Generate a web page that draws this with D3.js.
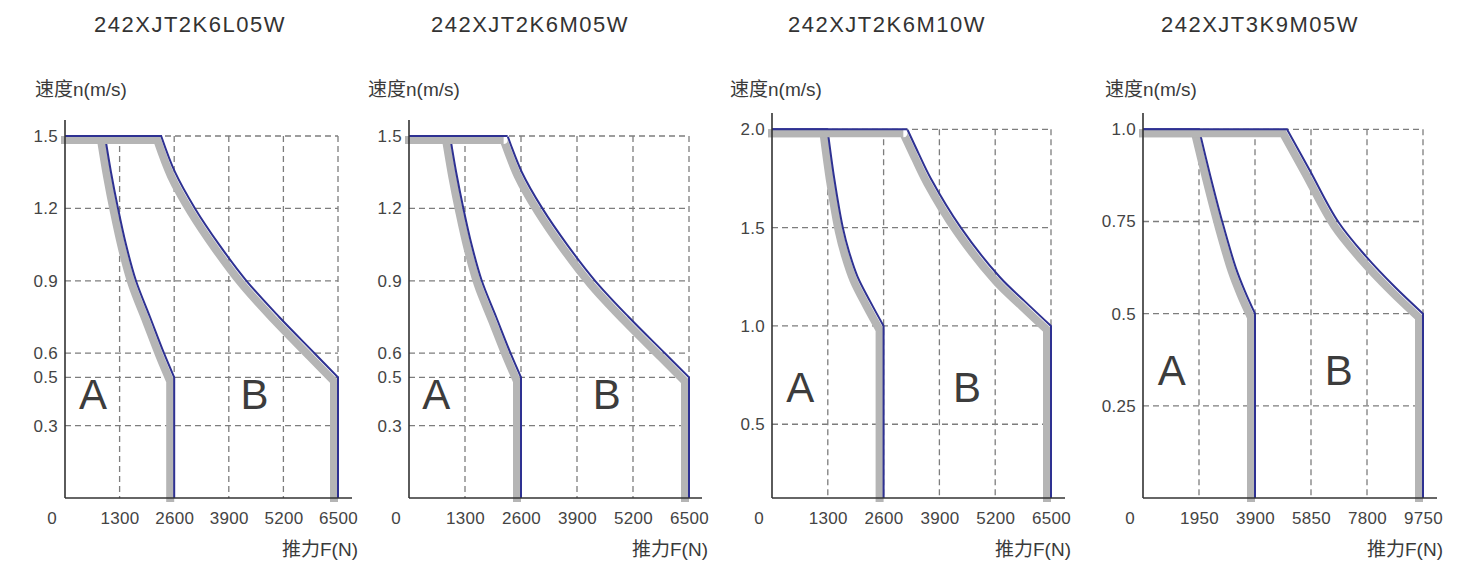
<!DOCTYPE html>
<meta charset="utf-8">
<title>speed-force curves</title>
<style>
    body { margin: 0; background: #fff; }
    text { font-family: "Liberation Sans", Arial, "Noto Sans CJK SC", sans-serif; fill: #3a3a3a; }
    .title { font-size: 22px; letter-spacing: 1.5px; text-anchor: middle; fill: #333; }
    .tick text { font-size: 17px; fill: #444; letter-spacing: 0.3px; }
    .unit { font-size: 19px; }
    .zone { font-size: 42px; text-anchor: middle; fill: #3c3c3c; }
    .grid { stroke: #7d7d7d; stroke-width: 1.3; stroke-dasharray: 6,4; fill: none; }
    .axis-line { stroke: #333; stroke-width: 1.6; }
</style>

<body>
    <script src="https://d3js.org/d3.v7.min.js" charset="utf-8"></script>
    <script>
        // ----------------------- data

        var titles = ["242XJT2K6L05W", "242XJT2K6M05W", "242XJT2K6M10W", "242XJT3K9M05W"];

        var forceTicks6500 = [0, 1300, 2600, 3900, 5200, 6500];
        var forceTicks9750 = [0, 1950, 3900, 5850, 7800, 9750];

        var speedTicks15 = [0.3, 0.5, 0.6, 0.9, 1.2, 1.5];
        var speedLabels15 = ["0.3", "0.5", "0.6", "0.9", "1.2", "1.5"];
        var speedTicks20 = [0.5, 1.0, 1.5, 2.0];
        var speedLabels20 = ["0.5", "1.0", "1.5", "2.0"];
        var speedTicks10 = [0.25, 0.5, 0.75, 1.0];
        var speedLabels10 = ["0.25", "0.5", "0.75", "1.0"];

        // 2K6 L05 / M05 (same curves)
        var forceA_05 = [952, 1095, 1262, 1452, 1690, 2024, 2357, 2600];
        var speedA_05 = [1.5, 1.35, 1.2, 1.05, 0.9, 0.75, 0.6, 0.5];
        var forceB_05 = [2290, 2620, 3095, 3670, 4320, 5100, 5940, 6500];
        var speedB_05 = [1.5, 1.35, 1.2, 1.05, 0.9, 0.75, 0.6, 0.5];

        // 2K6 M10
        var forceA_10 = [1293, 1450, 1650, 1798, 1995, 2286, 2600];
        var speedA_10 = [2.0, 1.75, 1.5, 1.375, 1.25, 1.125, 1.0];
        var forceB_10 = [3153, 3420, 3700, 4400, 5300, 5890, 6500];
        var speedB_10 = [2.0, 1.875, 1.75, 1.5, 1.25, 1.125, 1.0];

        // 3K9 M05
        var forceA_3K9 = [1950, 2340, 2758, 3230, 3540, 3900];
        var speedA_3K9 = [1.0, 0.875, 0.75, 0.625, 0.5625, 0.5];
        var forceB_3K9 = [5014, 5805, 6790, 7779, 8764, 9750];
        var speedB_3K9 = [1.0, 0.889, 0.75, 0.654, 0.573, 0.5];

        var zoneNames = ["A", "B"];

        // ----------------------- layout

        var width = 1473,
            height = 562,
            baseY = 498;

        var panels = [
            { title: titles[0], cx: 190, x0: 65, xR: 338, xEnd: 352, yTopPx: 136, axisTop: 120, unitX: 35,
              fTicks: forceTicks6500, vTicks: speedTicks15, vLabels: speedLabels15, vDomain: [0, 1.5],
              curves: [[forceA_05, speedA_05], [forceB_05, speedB_05]], zones: [[666, 0.369], [4510, 0.369]] },
            { title: titles[1], cx: 530, x0: 409, xR: 689, xEnd: 702, yTopPx: 136, axisTop: 120, unitX: 368,
              fTicks: forceTicks6500, vTicks: speedTicks15, vLabels: speedLabels15, vDomain: [0, 1.5],
              curves: [[forceA_05, speedA_05], [forceB_05, speedB_05]], zones: [[632, 0.369], [4588, 0.369]] },
            { title: titles[2], cx: 887, x0: 772, xR: 1051, xEnd: 1065, yTopPx: 129.3, axisTop: 113, unitX: 730,
              fTicks: forceTicks6500, vTicks: speedTicks20, vLabels: speedLabels20, vDomain: [0.125, 2.0],
              curves: [[forceA_10, speedA_10], [forceB_10, speedB_10]], zones: [[658, 0.613], [4543, 0.613]] },
            { title: titles[3], cx: 1260, x0: 1143, xR: 1423, xEnd: 1437, yTopPx: 129.3, axisTop: 113, unitX: 1105,
              fTicks: forceTicks9750, vTicks: speedTicks10, vLabels: speedLabels10, vDomain: [0, 1.0],
              curves: [[forceA_3K9, speedA_3K9], [forceB_3K9, speedB_3K9]], zones: [[1000, 0.306], [6813, 0.306]] }
        ];

        var svg = d3.select("body").append("svg")
            .attr("width", width)
            .attr("height", height);

        panels.forEach(function (p, k) {
            var fMax = p.fTicks[p.fTicks.length - 1];
            var vTop = p.vDomain[1], vBottom = p.vDomain[0];

            var x = d3.scaleLinear().domain([0, fMax]).range([p.x0, p.xR]);
            var y = d3.scaleLinear().domain(p.vDomain).range([baseY, p.yTopPx]);

            var g = svg.append("g");

            // title
            g.append("text").attr("class", "title")
                .attr("x", p.cx).attr("y", 32).text(p.title);

            // unit labels
            g.append("text").attr("class", "unit")
                .attr("x", p.unitX).attr("y", 96).text("速度n(m/s)");
            g.append("text").attr("class", "unit")
                .attr("x", p.xEnd + 6).attr("y", 556)
                .attr("text-anchor", "end").text("推力F(N)");

            // grid
            g.selectAll(".hgrid").data(p.vTicks).enter().append("line")
                .attr("class", "grid")
                .attr("x1", p.x0).attr("x2", x(fMax))
                .attr("y1", function (d) { return y(d); })
                .attr("y2", function (d) { return y(d); });
            g.selectAll(".vgrid").data(p.fTicks.slice(1)).enter().append("line")
                .attr("class", "grid")
                .attr("x1", function (d) { return x(d); })
                .attr("x2", function (d) { return x(d); })
                .attr("y1", y(vTop)).attr("y2", baseY);

            // curves
            var clipId = "clip" + k;
            svg.append("clipPath").attr("id", clipId)
                .append("rect")
                .attr("x", p.x0).attr("y", p.axisTop)
                .attr("width", p.xEnd - p.x0).attr("height", baseY - p.axisTop);

            var curveLine = d3.line()
                .x(function (d) { return x(d[0]); })
                .y(function (d) { return y(d[1]); })
                .curve(d3.curveCatmullRom.alpha(0.5));

            p.curves.forEach(function (c) {
                var F = c[0], V = c[1];
                var pts = F.map(function (f, i) { return [f, V[i]]; });
                var d = "M" + x(0) + "," + y(vTop) + "L" + x(F[0]) + "," + y(V[0]) +
                    curveLine(pts).replace(/^M[^A-Z]*/, "") +
                    "L" + x(F[F.length - 1]) + "," + y(vBottom);

                g.append("path")
                    .attr("d", d)
                    .attr("clip-path", "url(#" + clipId + ")")
                    .attr("transform", "translate(-4,4)")
                    .style("fill", "none")
                    .style("stroke", "#b5b5b5")
                    .style("stroke-width", 8);

                g.append("path")
                    .attr("d", d)
                    .style("fill", "none")
                    .style("stroke", "#2e3192")
                    .style("stroke-width", 2);
            });

            // zone letters
            g.selectAll(".zone").data(p.zones).enter().append("text")
                .attr("class", "zone")
                .attr("x", function (d) { return x(d[0]); })
                .attr("y", function (d) { return y(d[1]); })
                .text(function (d, i) { return zoneNames[i]; });

            // axes
            g.append("line").attr("class", "axis-line")
                .attr("x1", p.x0).attr("x2", p.x0)
                .attr("y1", p.axisTop).attr("y2", baseY);
            g.append("line").attr("class", "axis-line")
                .attr("x1", p.x0).attr("x2", p.xEnd)
                .attr("y1", baseY).attr("y2", baseY);

            var yAxis = d3.axisLeft(y)
                .tickValues(p.vTicks)
                .tickSize(0).tickPadding(7)
                .tickFormat(function (d, i) { return p.vLabels[i]; });
            var ya = g.append("g").attr("transform", "translate(" + p.x0 + ",0)").call(yAxis);
            ya.select(".domain").remove();

            var xAxis = d3.axisBottom(x)
                .tickValues(p.fTicks)
                .tickSize(0).tickPadding(14)
                .tickFormat(d3.format("d"));
            var xa = g.append("g").attr("transform", "translate(0," + baseY + ")").call(xAxis);
            xa.select(".domain").remove();
            xa.selectAll(".tick").filter(function (d) { return d === 0; })
                .attr("transform", "translate(" + (p.x0 - 13) + ",0)");

            svg.selectAll(".tick text").attr("font-family", null);
        });
    </script>
</body>
